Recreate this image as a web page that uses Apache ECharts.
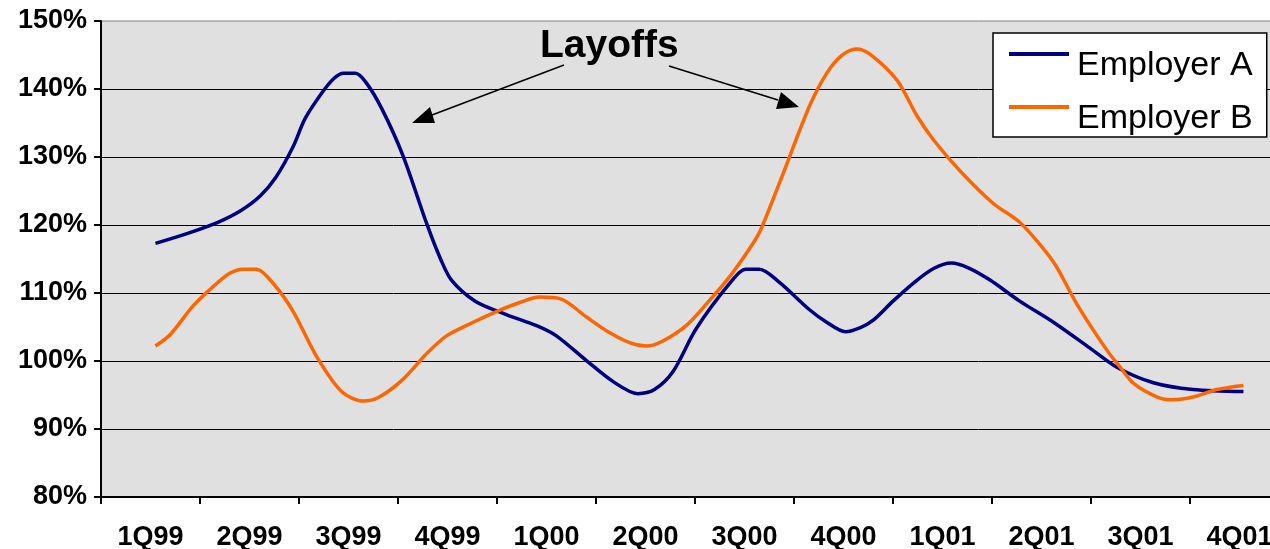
<!DOCTYPE html>
<html>
<head>
<meta charset="utf-8">
<script src="https://cdn.jsdelivr.net/npm/echarts@6/dist/echarts.min.js"></script>
<style>
  html, body { margin: 0; padding: 0; background: #fff; }
  #chart { width: 1270px; height: 549px; }
</style>
</head>
<body>
<div id="chart"></div>
<script>
// quarter labels on the x axis
const quarters = ["1Q99", "2Q99", "3Q99", "4Q99", "1Q00", "2Q00", "3Q00", "4Q00", "1Q01", "2Q01", "3Q01", "4Q01"];
const yTicks = [80, 90, 100, 110, 120, 130, 140, 150];

// positions read in quarter units (0 = 1Q99), values in %
const posA = [0.05, 0.36, 0.68, 0.91, 1.11, 1.27, 1.44, 1.56, 1.73, 1.85, 1.95, 2.07, 2.18, 2.34, 2.55, 2.79, 2.93, 3.04, 3.28, 3.6, 3.9, 4.1, 4.4, 4.67, 4.92, 5.09, 5.28, 5.51, 5.85, 6.01, 6.15, 6.35, 6.66, 6.83, 7.02, 7.17, 7.3, 7.5, 7.71, 7.91, 8.09, 8.26, 8.48, 8.78, 9.12, 9.49, 9.77, 10.13, 10.53, 11.04];
const employerA = [117.3, 118.7, 120.4, 122.1, 124.3, 127.1, 131.5, 135.6, 139.4, 141.5, 142.3, 142.3, 140.9, 137.0, 130.2, 120.2, 115.0, 111.9, 108.8, 106.8, 105.2, 103.7, 100.1, 97.0, 95.2, 95.8, 98.5, 104.7, 111.4, 113.5, 113.5, 111.6, 107.5, 105.7, 104.3, 104.9, 106.0, 108.8, 111.5, 113.6, 114.4, 113.7, 111.9, 108.8, 105.7, 101.9, 99.0, 96.8, 95.8, 95.5];

const posB = [0.05, 0.2, 0.43, 0.63, 0.8, 0.94, 1.07, 1.24, 1.44, 1.68, 1.93, 2.15, 2.31, 2.55, 2.79, 2.99, 3.26, 3.5, 3.73, 3.93, 4.15, 4.4, 4.6, 4.84, 5.01, 5.17, 5.41, 5.64, 5.85, 6.05, 6.16, 6.38, 6.66, 6.83, 6.98, 7.13, 7.27, 7.54, 7.74, 7.91, 8.18, 8.51, 8.78, 9.02, 9.15, 9.36, 9.66, 9.8, 9.93, 10.17, 10.33, 10.53, 10.77, 11.04];
const employerB = [102.2, 103.9, 108.1, 110.9, 112.9, 113.5, 113.5, 111.4, 107.3, 100.6, 95.5, 94.1, 94.7, 97.3, 101.1, 103.7, 105.7, 107.3, 108.6, 109.4, 109.1, 106.5, 104.5, 102.7, 102.2, 102.9, 105.2, 108.8, 112.4, 116.5, 119.2, 127.2, 137.6, 142.3, 144.9, 145.9, 145.1, 141.3, 136.1, 132.5, 127.9, 123.2, 120.4, 116.5, 113.9, 108.3, 101.6, 99.0, 96.7, 94.7, 94.3, 94.7, 95.8, 96.4];

const pairs = (xs, ys) => xs.map((x, i) => [x, ys[i]]);

const chart = echarts.init(document.getElementById("chart"));
window.addEventListener("resize", () => {
  chart.resize();
});

const FONT = "'Liberation Sans', Arial, sans-serif";

const option = {
  animation: false,
  textStyle: { fontFamily: FONT },
  grid: {
    left: 101,
    top: 21,
    width: 1188,
    height: 476,
    outerBoundsMode: "none",
    show: true,
    backgroundColor: "#E0E0E0",
    borderColor: "#808080",
    borderWidth: 1,
  },
  legend: {
    orient: "vertical",
    left: 993,
    top: 33,
    backgroundColor: "#fff",
    borderColor: "#000",
    borderWidth: 1.5,
    padding: [16, 14, 1, 16],
    // legend line sits near the top of the text, like the original
    icon: "path://M0,0H60V4H0Z M0,28H60",
    itemWidth: 60,
    itemHeight: 28,
    itemGap: 19,
    textStyle: { fontSize: 34, padding: [0, 0, 0, 3], color: "#000", fontFamily: FONT },
    data: ["Employer A", "Employer B"],
  },
  xAxis: [
    {
      type: "category",
      data: quarters,
      boundaryGap: true,
      axisLine: { lineStyle: { color: "#000", width: 2 } },
      axisTick: { show: true, length: 7, lineStyle: { color: "#000", width: 2 } },
      axisLabel: { fontSize: 27, fontWeight: "bold", color: "#000", margin: 27, interval: 0 },
      splitLine: { show: false },
    },
    {
      type: "value",
      min: -0.5,
      max: 11.5,
      show: false,
    },
  ],
  yAxis: {
    type: "value",
    min: yTicks[0],
    max: yTicks[yTicks.length - 1],
    interval: 10,
    axisLine: { show: true, onZero: false, lineStyle: { color: "#000", width: 2 } },
    axisTick: { show: true, length: 7, lineStyle: { color: "#000", width: 2 } },
    axisLabel: { fontSize: 27, fontWeight: "bold", color: "#000", margin: 14, formatter: "{value}%" },
    splitLine: { show: true, showMaxLine: false, lineStyle: { color: "#000", width: 1 } },
  },
  graphic: [
    {
      type: "text",
      left: 540,
      top: 27,
      style: { text: "Layoffs", font: "bold 39px " + FONT, fill: "#000" },
    },
    { type: "line", shape: { x1: 564, y1: 65, x2: 432, y2: 115 }, style: { stroke: "#000", lineWidth: 1.5 } },
    { type: "polygon", shape: { points: [[412, 123], [435, 123], [430, 107]] }, style: { fill: "#000" } },
    { type: "line", shape: { x1: 669, y1: 66, x2: 778, y2: 100 }, style: { stroke: "#000", lineWidth: 1.5 } },
    { type: "polygon", shape: { points: [[799, 107], [776, 109], [781, 92]] }, style: { fill: "#000" } },
  ],
  series: [
    {
      name: "Employer A",
      type: "line",
      xAxisIndex: 1,
      data: pairs(posA, employerA),
      smooth: 0.3,
      symbol: "none",
      lineStyle: { color: "#000080", width: 3.5 },
      itemStyle: { color: "#000080" },
    },
    {
      name: "Employer B",
      type: "line",
      xAxisIndex: 1,
      data: pairs(posB, employerB),
      smooth: 0.3,
      symbol: "none",
      lineStyle: { color: "#FF6600", width: 3.5 },
      itemStyle: { color: "#FF6600" },
    },
  ],
};

chart.setOption(option);
</script>
</body>
</html>
